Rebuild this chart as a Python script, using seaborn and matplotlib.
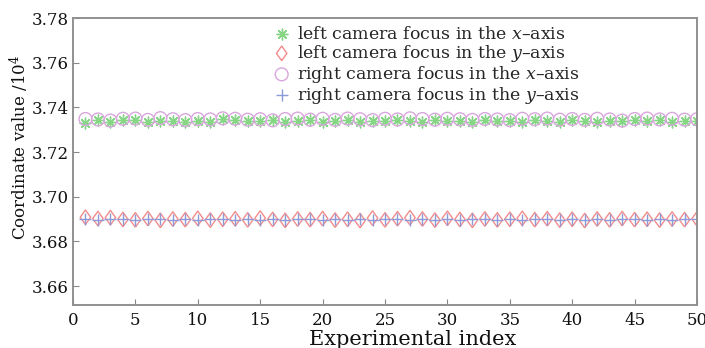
import numpy as np
import pandas as pd
import matplotlib
matplotlib.use("Agg")
import matplotlib.pyplot as plt
import seaborn as sns

# Experimental index 1..50
index = list(range(1, 51))

# Focus coordinates (units of 10^4)
left_x = [3.7332, 3.7342, 3.7336, 3.7345, 3.7343, 3.7333, 3.7340, 3.7338, 3.7334, 3.7341,
          3.7333, 3.7346, 3.7344, 3.7337, 3.7339, 3.7342, 3.7336, 3.7340, 3.7343, 3.7335,
          3.7338, 3.7345, 3.7336, 3.7341, 3.7337, 3.7344, 3.7339, 3.7335, 3.7343, 3.7338,
          3.7341, 3.7334, 3.7342, 3.7337, 3.7340, 3.7336, 3.7344, 3.7339, 3.7335, 3.7342,
          3.7338, 3.7333, 3.7341, 3.7337, 3.7343, 3.7339, 3.7344, 3.7336, 3.7340, 3.7337]
left_y = [3.6908, 3.6902, 3.6906, 3.6898, 3.6896, 3.6902, 3.6894, 3.6900, 3.6897, 3.6903,
          3.6895, 3.6899, 3.6901, 3.6896, 3.6904, 3.6898, 3.6894, 3.6900, 3.6897, 3.6902,
          3.6895, 3.6899, 3.6893, 3.6904, 3.6896, 3.6901, 3.6906, 3.6900, 3.6895, 3.6903,
          3.6898, 3.6894, 3.6900, 3.6896, 3.6899, 3.6903, 3.6897, 3.6901, 3.6895, 3.6899,
          3.6893, 3.6900, 3.6896, 3.6902, 3.6897, 3.6899, 3.6895, 3.6900, 3.6897, 3.6901]
right_x = [3.7348, 3.7346, 3.7341, 3.7349, 3.7350, 3.7344, 3.7352, 3.7347, 3.7343, 3.7348,
           3.7346, 3.7351, 3.7349, 3.7345, 3.7347, 3.7342, 3.7348, 3.7350, 3.7345, 3.7349,
           3.7344, 3.7350, 3.7347, 3.7343, 3.7349, 3.7346, 3.7351, 3.7348, 3.7345, 3.7349,
           3.7347, 3.7344, 3.7348, 3.7346, 3.7343, 3.7349, 3.7347, 3.7350, 3.7345, 3.7348,
           3.7344, 3.7349, 3.7346, 3.7341, 3.7348, 3.7350, 3.7346, 3.7349, 3.7345, 3.7347]
right_y = [3.6898, 3.6896, 3.6900, 3.6899, 3.6895, 3.6898, 3.6902, 3.6897, 3.6899, 3.6896,
           3.6900, 3.6898, 3.6895, 3.6899, 3.6897, 3.6901, 3.6896, 3.6898, 3.6900, 3.6895,
           3.6899, 3.6897, 3.6900, 3.6896, 3.6898, 3.6899, 3.6895, 3.6900, 3.6897, 3.6899,
           3.6896, 3.6898, 3.6901, 3.6897, 3.6899, 3.6896, 3.6900, 3.6898, 3.6895, 3.6899,
           3.6897, 3.6900, 3.6896, 3.6898, 3.6899, 3.6896, 3.6900, 3.6897, 3.6899, 3.6898]

labels = [r"left camera focus in the $x$–axis",
          r"left camera focus in the $y$–axis",
          r"right camera focus in the $x$–axis",
          r"right camera focus in the $y$–axis"]

x_ticks = list(range(0, 51, 5))
y_ticks = [3.66, 3.68, 3.70, 3.72, 3.74, 3.76, 3.78]

sns.set_theme(style="white")
plt.rcParams["font.family"] = ["DejaVu Serif"]
plt.rcParams["mathtext.fontset"] = "dejavuserif"

fig = plt.figure(figsize=(7.05, 3.48), dpi=100)
ax = fig.add_axes([0.1035, 0.1236, 0.8852, 0.8244])

# slightly elongated diamond outline
diamond = [(0, -1), (0.72, 0), (0, 1), (-0.72, 0), (0, -1)]

series = [
    (left_x, labels[0], dict(marker=(8, 2, 0), s=60, color="#86d686", linewidth=1.0)),
    (left_y, labels[1], dict(marker=diamond, s=110, facecolors="none", edgecolor="#f28c8c", linewidth=1.0)),
    (right_x, labels[2], dict(marker="o", s=85, facecolors="none", edgecolor="#d9a6dd", linewidth=1.0)),
    (right_y, labels[3], dict(marker="+", s=75, color="#8c9ad8", linewidth=1.0)),
]
for vals, lab, kw in series:
    df = pd.DataFrame({"idx": index, "val": vals})
    sns.scatterplot(data=df, x="idx", y="val", ax=ax, label=lab, **kw)

ax.set_xlim(0, 50)
ax.set_ylim(3.6515, 3.78)
ax.set_xticks(x_ticks)
ax.set_yticks(y_ticks)
ax.set_yticklabels([f"{t:.2f}" for t in y_ticks])
ax.tick_params(axis="both", direction="in", length=4, width=0.8, colors="#888888",
               labelcolor="#111111", labelsize=12, pad=3,
               left=True, bottom=True, top=False, right=False)
ax.tick_params(axis="x", pad=5)
for sp in ax.spines.values():
    sp.set_color("#909090")
    sp.set_linewidth(1.4)

ax.set_xlabel("Experimental index", fontsize=15, color="#111111")
ax.xaxis.set_label_coords(0.545, -0.088)
ax.set_ylabel(r"Coordinate value /10$^4$", fontsize=12, color="#111111")
ax.yaxis.set_label_coords(-0.067, 0.55)

ax.legend(loc="upper left", bbox_to_anchor=(0.308, 1.0), frameon=False, fontsize=12.5,
          labelspacing=0.0, handletextpad=0.4, handlelength=1.0, borderaxespad=0.05)

fig.savefig("out.png", dpi=100)
